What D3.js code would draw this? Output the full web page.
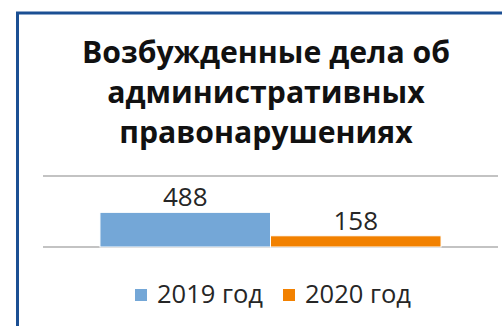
<!DOCTYPE html>
<html>
<head>
<meta charset="utf-8">
<script src="https://cdn.jsdelivr.net/npm/d3@7"></script>
<style>
  html, body { margin: 0; padding: 0; background: #fff; }
  svg { display: block; }
</style>
</head>
<body>
<svg id="chart" width="502" height="326"></svg>
<script>
// Chart data
const titleLines = ["Возбужденные дела об", "административных", "правонарушениях"];
const category = ["Возбужденные дела"];
const seriesNames = ["2019 год", "2020 год"];
const seriesValues = [488, 158];
const seriesColors = ["#74a7d7", "#f28100"];
const gridTicks = [0, 1000];

const W = 502, H = 326;
const svg = d3.select("#chart");
const font = "'Open Sans', 'Noto Sans', sans-serif";

// Frame (extends past the right and bottom edges)
svg.append("rect")
  .attr("x", 17.5).attr("y", 13)
  .attr("width", W + 20).attr("height", H + 20)
  .attr("fill", "#fff")
  .attr("stroke", "#1b4f93").attr("stroke-width", 3);

// Title
const title = svg.append("g")
  .attr("font-family", font).attr("font-weight", 700)
  .attr("fill", "#111").attr("text-anchor", "middle");
const titleBaselines = [63, 103, 143];
titleLines.forEach((t, i) => {
  title.append("text")
    .attr("x", 266).attr("y", titleBaselines[i])
    .attr("font-size", 30.2)
    .text(t);
});

// Scales
const plotLeft = 43, plotRight = 498;
const x0 = d3.scaleBand().domain(category).range([plotLeft, plotRight])
  .paddingInner(0).paddingOuter(0.167);
const x1 = d3.scaleBand().domain(seriesNames).range([0, x0.bandwidth()]).padding(0);
const y = d3.scaleLinear().domain([0, 1000]).range([247, 176]);

// Gridlines
svg.append("g").selectAll("line").data(gridTicks).join("line")
  .attr("x1", plotLeft).attr("x2", plotRight)
  .attr("y1", d => y(d)).attr("y2", d => y(d))
  .attr("stroke", "#c3c3c3").attr("stroke-width", 2);

// Bars
const data = seriesNames.map((s, i) => ({ name: s, value: seriesValues[i], color: seriesColors[i] }));
const g = svg.append("g").attr("transform", `translate(${x0(category[0])},0)`);
g.selectAll("rect").data(data).join("rect")
  .attr("x", d => x1(d.name))
  .attr("y", d => y(d.value))
  .attr("width", x1.bandwidth())
  .attr("height", d => y(0) - y(d.value))
  .attr("fill", d => d.color)
  .attr("stroke", "#fff").attr("stroke-width", 1);

// Value labels
g.selectAll("text").data(data).join("text")
  .attr("x", d => x1(d.name) + x1.bandwidth() / 2)
  .attr("y", d => y(d.value) - 6)
  .attr("text-anchor", "middle")
  .attr("font-family", font).attr("font-size", 26)
  .attr("fill", "#262626")
  .text(d => d.value);

// Legend
const legendX = [135, 283];
const legend = svg.append("g").selectAll("g").data(data).join("g")
  .attr("transform", (d, i) => `translate(${legendX[i]},0)`);
legend.append("rect")
  .attr("x", 0).attr("y", 289).attr("width", 12).attr("height", 12)
  .attr("fill", d => d.color);
legend.append("text")
  .attr("x", 22).attr("y", 303)
  .attr("font-family", font).attr("font-size", 25.5)
  .attr("fill", "#262626")
  .text(d => d.name);
</script>
</body>
</html>
